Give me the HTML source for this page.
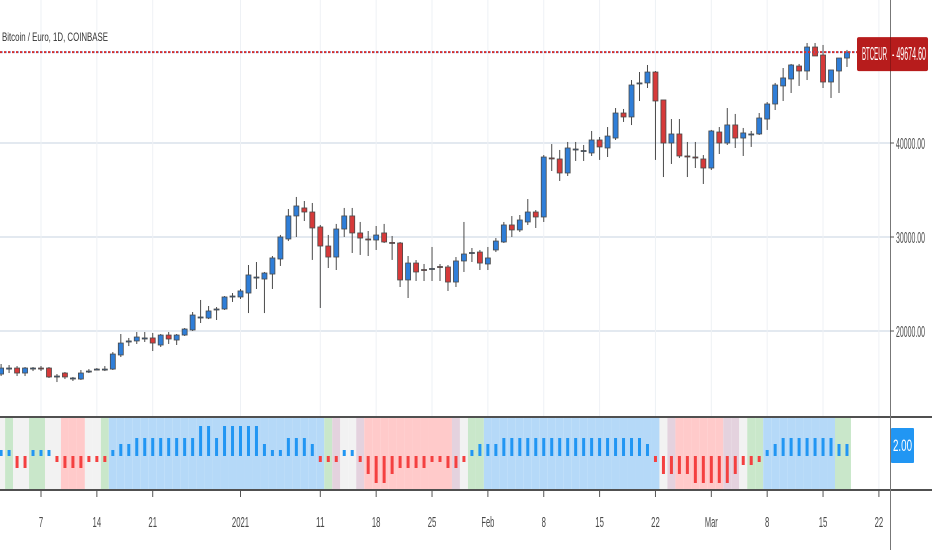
<!DOCTYPE html>
<html><head><meta charset="utf-8">
<style>
html,body{margin:0;padding:0;background:#fff;}
svg{display:block;font-family:"Liberation Sans Narrow","Liberation Sans",sans-serif;}
</style></head>
<body>
<svg id="chart" width="932" height="550" viewBox="0 0 932 550" xmlns="http://www.w3.org/2000/svg">
  <rect x="0" y="0" width="932" height="550" fill="#ffffff"/>
  <g id="grid"></g>
  <g id="bgStripes"></g>
  <g id="candles"></g>
  <g id="hist"></g>
  <line x1="0" y1="417" x2="932" y2="417" stroke="#505050" stroke-width="2"/>
  <line x1="0" y1="490" x2="932" y2="490" stroke="#505050" stroke-width="2"/>
  <line x1="890.5" y1="0" x2="890.5" y2="550" stroke="#777" stroke-width="1"/>
  <g id="xaxis"></g>
  <g id="yaxis"></g>
  <text x="2" y="41" font-size="12" fill="#333" textLength="106" lengthAdjust="spacingAndGlyphs">Bitcoin / Euro, 1D, COINBASE</text>
  <g id="lastPrice"></g>
  <g>
    <rect x="891" y="428" width="23" height="35" fill="#2196f3" rx="1"/>
    <text x="902.5" y="451" font-size="17" fill="#fff" text-anchor="middle" textLength="19" lengthAdjust="spacingAndGlyphs">2.00</text>
  </g>
</svg>
<script>
const startDay = -5;
const opens = [15.42,15.95,16.06,15.53,16.01,16.06,16.06,15.16,15.53,14.94,
14.89,15.64,15.90,15.90,15.95,17.45,18.83,18.94,19.15,19.26,
18.51,19.57,19.04,19.57,20.11,21.43,21.38,22.29,22.34,23.67,
23.62,24.04,25.69,25.53,26.06,27.66,29.79,32.24,33.09,32.66,
31.07,29.04,27.87,30.85,32.24,30.43,29.79,29.68,30.43,29.42,
29.36,25.43,27.23,26.54,26.60,26.86,26.81,25.21,27.45,28.30,
28.40,27.13,28.62,29.47,31.28,30.75,31.60,32.66,32.13,38.41,
38.30,36.81,39.31,39.15,38.94,40.32,39.47,40.53,43.19,42.77,
46.33,46.39,47.55,44.58,40.00,40.96,38.62,38.51,38.30,37.34,
41.17,40.00,41.92,40.53,40.90,40.96,42.55,44.15,46.07,46.81,
48.19,47.66,50.21,49.36,46.49,47.66,49.04];
const highs = [16.49,16.38,16.27,16.17,16.17,16.27,16.17,15.42,15.64,15.11,
15.85,15.95,16.06,16.27,17.76,19.68,19.26,19.89,19.89,19.79,
19.68,19.89,19.68,20.32,22.02,23.30,22.66,22.55,23.72,24.04,
24.47,27.02,27.34,26.28,27.98,30.22,32.98,34.26,33.83,33.62,
31.28,30.22,31.39,33.09,33.09,31.60,30.64,31.17,31.39,30.11,
29.47,27.98,27.55,27.13,28.94,27.13,27.02,27.87,31.60,28.83,
28.62,28.94,29.89,31.60,32.23,32.34,34.04,32.87,38.72,39.89,
39.26,40.11,40.11,39.79,41.28,40.64,41.70,43.72,43.62,46.70,
47.55,48.30,47.66,44.58,42.55,42.55,40.11,40.11,38.72,41.39,
41.70,43.72,43.09,41.60,41.28,43.19,44.36,46.39,47.98,48.41,
48.41,50.64,50.64,50.43,47.77,49.04,49.90];
const lows = [15.21,15.53,15.21,15.21,15.74,15.74,15.00,14.57,14.89,14.68,
14.79,15.53,15.85,15.74,15.85,17.23,18.40,18.62,18.83,17.87,
18.30,18.62,18.51,19.47,20.00,20.85,21.27,21.17,22.24,23.09,
23.40,21.91,24.47,21.91,24.47,26.92,29.57,30.00,31.70,27.56,
22.45,26.70,26.49,30.00,28.30,28.09,27.98,28.62,29.36,27.56,
24.68,23.51,25.32,25.32,25.32,25.32,24.26,24.68,26.28,27.34,
26.49,26.49,28.40,29.36,30.00,30.53,31.28,30.96,31.60,37.02,
35.96,36.49,38.09,38.09,38.62,38.20,38.51,40.32,42.24,41.91,
44.47,45.85,38.20,36.38,37.77,38.40,36.38,37.34,35.64,37.13,
38.83,39.79,39.47,38.62,39.58,40.85,41.39,43.51,44.47,45.32,
46.07,46.70,49.26,45.85,44.79,45.32,48.09];
const closes = [16.06,16.06,15.53,16.06,16.06,16.01,15.11,15.21,15.11,15.00,
15.53,15.74,15.95,15.95,17.55,18.72,18.94,19.36,19.26,18.72,
19.57,19.15,19.57,20.21,21.70,21.49,22.13,22.34,23.62,23.72,
24.26,25.96,25.74,26.17,27.77,30.00,32.24,33.30,32.66,30.96,
29.04,27.87,30.85,32.24,30.43,29.89,29.74,30.21,29.47,29.36,
25.43,27.23,26.28,26.49,26.65,26.81,25.21,27.45,28.19,28.35,
27.23,27.77,29.57,31.28,30.75,31.81,32.66,32.13,38.51,38.35,
36.81,39.47,39.36,39.20,40.32,39.58,40.74,43.19,42.77,46.17,
46.39,47.55,44.47,40.00,40.96,38.62,38.56,38.46,37.34,41.28,
40.00,41.92,40.53,41.07,40.96,42.66,44.15,46.17,46.92,48.30,
47.66,50.21,49.26,46.49,47.77,49.04,49.674];
const histValues = [1,1,-2,-2,1,1,1,-1,-2,-2,
-2,-1,-1,-1,1,2,2,3,3,3,
3,3,3,3,3,5,5,3,5,5,
5,5,5,2,1,1,3,3,3,2,
-1,-1,-1,1,1,-1,-3,-4.5,-4.5,-3,
-2,-2,-2,-2,-1,-1,-2,-2,-1,1,
2,2,2,3,3,3,3,3,3,3,
3,3,3,3,3,3,3,3,3,3,
3,2,-1,-3,-3,-3,-3,-4.5,-4.5,-4.5,
-4.5,-4.5,-3,-1.5,-1.5,-1,1,2,3,3,
3,3,3,3,3,2,2];
const bgStates = ['n','g','n','n','g','g','n','n','r','r',
'r','n','n','g','b','b','b','b','b','b',
'b','b','b','b','b','b','b','b','b','b',
'b','b','b','b','b','b','b','b','b','b',
'b','g','p','n','n','p','r','r','r','r',
'r','r','r','r','r','r','r','p','n','g',
'g','b','b','b','b','b','b','b','b','b',
'b','b','b','b','b','b','b','b','b','b',
'b','b','b','n','p','r','r','r','r','r',
'r','p','p','n','g','g','b','b','b','b',
'b','b','b','b','b','g','g'];
const xTickDays = [0,7,14,25,35,42,49,56,63,70,77,84,91,98,105];
const xTickLabels = ['7','14','21','2021','11','18','25','Feb','8','15','22','Mar','8','15','22'];
const yTickValues = [20,30,40];
const yTickLabels = ['20000.00','30000.00','40000.00'];
const lastLabel = 'BTCEUR';
const lastValueText = '49674.60';

const NS='http://www.w3.org/2000/svg';
function xScale(d){return 41+d*7.98;}
function yScale(p){return 143+(40-p)*9.4;}
function hScale(v){return 456-v*6;}
function mk(tag,attrs,parent){const e=document.createElementNS(NS,tag);for(const k in attrs)e.setAttribute(k,attrs[k]);parent.appendChild(e);return e;}

const grid=document.getElementById('grid');
yTickValues.forEach(v=>{
  const l=mk('line',{x1:0,x2:890,y1:yScale(v),y2:yScale(v),stroke:'#e3e9f0','stroke-width':2},grid);
  
  
});
xTickDays.forEach(d=>{
  const l=mk('line',{x1:xScale(d),x2:xScale(d),y1:0,y2:490,stroke:'#eef1f5','stroke-width':1},grid);
  
  
});

const colors={n:'#f2f2f2',g:'#c9e7ca',r:'#ffcaca',b:'#b5d9f8',p:'#e4d2de'};
const bg=document.getElementById('bgStripes');
bgStates.forEach((s,i)=>{
  const d=startDay+i;
  const x0=Math.max(0,xScale(d-0.5));
  const r=mk('rect',{x:x0,y:418,width:xScale(d+0.5)-x0,height:71,fill:colors[s]},bg);
  
  
});

const cg=document.getElementById('candles');
opens.forEach((o,i)=>{
  const d=startDay+i, x=xScale(d), c=closes[i];
  const up=c>=o;
  const g=mk('g',{},cg);
  
  
  mk('line',{x1:x,x2:x,y1:yScale(highs[i]),y2:yScale(lows[i]),stroke:'#4a4a4a','stroke-width':1},g);
  const top=yScale(Math.max(o,c)), bot=yScale(Math.min(o,c));
  mk('rect',{x:x-2.5,y:top,width:5,height:Math.max(1,bot-top),fill:up?'#2f7ed8':'#d63a3a',stroke:'#4a4a4a','stroke-width':0.8},g);
});

const hg=document.getElementById('hist');
histValues.forEach((v,i)=>{
  const x=xScale(startDay+i);
  const y0=hScale(0), y1=hScale(v);
  const r=mk('rect',{x:x-1.5,y:Math.min(y0,y1),width:3,height:Math.abs(y1-y0),fill:v>=0?'#2196f3':'#f44040'},hg);
  
  
});

const xa=document.getElementById('xaxis');
xTickDays.forEach((d,i)=>{
  const x=xScale(d);
  mk('line',{x1:x,x2:x,y1:491,y2:497,stroke:'#555','stroke-width':1},xa);
  const lbl=xTickLabels[i];
  const t=mk('text',{x:x,y:527,'font-size':15,fill:'#4a4a4a','text-anchor':'middle',textLength:lbl.length*4.3,lengthAdjust:'spacingAndGlyphs'},xa);
  
  
  t.textContent=lbl;
});

const ya=document.getElementById('yaxis');
yTickValues.forEach((v,i)=>{
  const y=yScale(v);
  mk('line',{x1:890,x2:894,y1:y,y2:y,stroke:'#555','stroke-width':1},ya);
  const t=mk('text',{x:896,y:y+6,'font-size':16,fill:'#4a4a4a',textLength:29,lengthAdjust:'spacingAndGlyphs'},ya);
  
  
  t.textContent=yTickLabels[i];
});

const lp=document.getElementById('lastPrice');
const ly=yScale(closes[closes.length-1]);
mk('line',{x1:0,x2:857,y1:ly,y2:ly,stroke:'#d32f2f','stroke-width':2,'stroke-dasharray':'2,2'},lp);
mk('line',{x1:2,x2:857,y1:ly,y2:ly,stroke:'#5c6bc0','stroke-width':2,'stroke-dasharray':'1,3','opacity':0.6},lp);
const box=mk('rect',{x:857,y:ly-15,width:71,height:34,fill:'#b71c1c',rx:2},lp);


mk('line',{x1:890.5,x2:890.5,y1:ly-15,y2:ly+19,stroke:'#8e1515','stroke-width':1},lp);
const t1=mk('text',{x:862,y:ly+8,'font-size':18,fill:'#fff',textLength:25,lengthAdjust:'spacingAndGlyphs'},lp);


t1.textContent=lastLabel;
const t2=mk('text',{x:892,y:ly+8,'font-size':18,fill:'#fff',textLength:34,lengthAdjust:'spacingAndGlyphs'},lp);


t2.textContent='- '+lastValueText;
</script>
</body></html>
